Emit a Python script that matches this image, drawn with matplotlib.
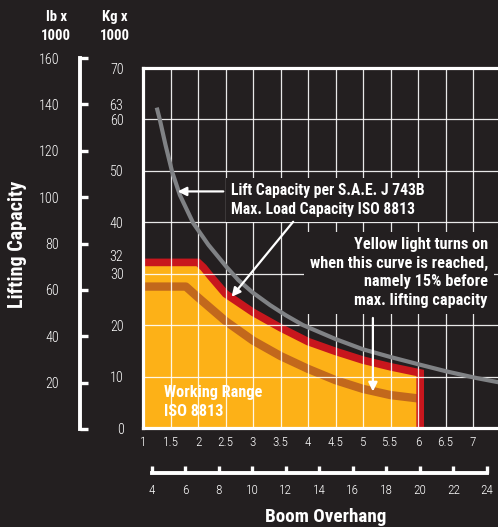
import matplotlib
matplotlib.use('Agg')
import matplotlib.pyplot as plt
from matplotlib import font_manager as fm
from matplotlib.transforms import blended_transform_factory

# ---- pick a condensed sans with a real bold ----
weights = {}
for f in fm.fontManager.ttflist:
    w = f.weight if isinstance(f.weight, int) else (700 if str(f.weight) == 'bold' else 400)
    if f.style == 'normal':
        weights.setdefault(f.name, set()).add(w)
PREF = ['Roboto Condensed', 'Archivo Narrow', 'PT Sans Narrow', 'Fira Sans Condensed',
        'IBM Plex Sans Condensed', 'Encode Sans Condensed', 'Liberation Sans Narrow',
        'Arial Narrow', 'Liberation Sans']
FONT = 'DejaVu Sans'
for name in PREF:
    ws = weights.get(name, set())
    if ws and max(ws) >= 700 and min(ws) <= 400:
        FONT = name
        break
TICK_WEIGHT = 300 if any(w <= 300 for w in weights.get(FONT, {400})) else 'normal'
plt.rcParams['font.family'] = [FONT, 'DejaVu Sans']

BG = '#231f20'
YELLOW = '#fdb117'
RED = '#c8161d'
BROWN = '#c2681c'
GRAY = '#808285'
WHITE = 'white'

# ---------------- data ----------------
boom_m_ticks = [1, 1.5, 2, 2.5, 3, 3.5, 4, 4.5, 5, 5.5, 6, 6.5, 7]
boom_m_labels = ['1', '1.5', '2', '2.5', '3', '3.5', '4', '4.5', '5', '5.5', '6', '6.5', '7']
boom_ft_ticks = [4, 6, 8, 10, 12, 14, 16, 18, 20, 22, 24]
kg_ticks = [0, 10, 20, 30, 40, 50, 60, 70]
kg_extra_ticks = [63, 32]
lb_ticks = [0, 20, 40, 60, 80, 100, 120, 140, 160]

# Lift capacity per S.A.E. J 743B (gray curve), boom overhang m -> kg x 1000
sae_x = [1.25, 1.305, 1.41, 1.53, 1.67, 1.91, 2.19, 2.52, 2.73, 3.0, 3.31, 3.6, 3.91,
         4.5, 5.0, 5.5, 6.04, 6.52, 7.07, 7.46]
sae_y = [62.3, 60.0, 55.0, 49.8, 45.3, 39.9, 35.6, 31.3, 28.8, 26.3, 23.9, 21.9, 20.0,
         17.3, 15.3, 13.8, 12.3, 11.0, 9.7, 8.9]

# Max. load capacity ISO 8813 (red band)
max_x = [1.0, 2.0, 2.1, 2.22, 2.5, 3.0, 3.5, 4.0, 4.5, 5.0, 5.5, 6.04]
max_y = [32.2, 32.2, 31.2, 29.6, 26.1, 22.5, 19.5, 16.8, 14.9, 13.2, 11.9, 10.7]

# Yellow light threshold, 15% before max (brown band)
warn_x = [1.0, 1.78, 2.0, 2.5, 3.0, 3.5, 4.0, 4.5, 5.0, 5.5, 6.04]
warn_y = [27.5, 27.5, 25.4, 20.8, 17.0, 14.0, 11.5, 9.3, 7.6, 6.4, 5.7]

# ---------------- figure ----------------
W, H = 498, 527
fig = plt.figure(figsize=(W / 100, H / 100), dpi=100, facecolor=BG)
renderer = fig.canvas.get_renderer()


def rect(left, top, right, bottom):
    return [left / W, 1 - bottom / H, (right - left) / W, (bottom - top) / H]


def fit(text, target, vertical=False):
    """scale a text's font size so that its drawn extent matches the reference width"""
    bb = text.get_window_extent(renderer)
    size = bb.height if vertical else bb.width
    if size > 0:
        f = target / size
        f = min(max(f, 0.75), 1.3)
        text.set_fontsize(text.get_fontsize() * f)
    return text


ax = fig.add_axes(rect(143, 68, 498, 428))
ax.set_facecolor(BG)
ax.set_xlim(1, 1 + 355 / 55)
ax.set_ylim(0, 70)

for s in ['top', 'left', 'bottom']:
    ax.spines[s].set_color(WHITE)
    ax.spines[s].set_linewidth(2.3)
    ax.spines[s].set_zorder(6)
ax.spines['right'].set_visible(False)

# size tick labels from reference widths ("160" ~20 px, "24" ~15 px)
probe = fig.text(0, 0, '160', fontsize=11, fontweight=TICK_WEIGHT)
fit(probe, 20.5)
tick_big = probe.get_fontsize()
probe.set_fontsize(10)
fit(probe, 19.5)
tick_small = probe.get_fontsize()
probe.remove()

ax.set_xticks(boom_m_ticks)
ax.set_xticklabels(boom_m_labels, fontweight=TICK_WEIGHT)
ax.set_yticks(kg_ticks)
ax.set_yticklabels([str(v) for v in kg_ticks], fontweight=TICK_WEIGHT)
ax.tick_params(axis='x', length=0, pad=6, labelsize=tick_small, labelcolor=WHITE)
ax.tick_params(axis='y', length=0, pad=14, labelsize=tick_big, labelcolor=WHITE)
ax.set_axisbelow(False)
ax.grid(True, color=WHITE, lw=0.9, alpha=0.9)

# extra kg labels
ytrans = blended_transform_factory(ax.transAxes, ax.transData)
for v in kg_extra_ticks:
    dy = 8 if v == 32 else 0
    ax.annotate(str(v), xy=(0, v), xycoords=ytrans, xytext=(-20, dy),
                textcoords='offset pixels', ha='right', va='center_baseline',
                fontsize=tick_big, fontweight=TICK_WEIGHT, color=WHITE,
                annotation_clip=False)

# fills and bands
ax.fill_between(max_x, max_y, 0, color=YELLOW, lw=0, zorder=1)
ax.plot(warn_x, warn_y, color=BROWN, lw=6, solid_capstyle='butt', zorder=2)
ax.plot(max_x + [max_x[-1]], max_y + [0], color=RED, lw=5.5,
        solid_capstyle='butt', solid_joinstyle='miter', zorder=2.2)
ax.plot(sae_x, sae_y, color=GRAY, lw=3, solid_capstyle='butt',
        solid_joinstyle='round', zorder=3)

# annotations
txt_kw = dict(color=WHITE, fontsize=11.5, fontweight='bold', zorder=4)
box = dict(boxstyle='square,pad=0.35', fc=BG, ec='none')
t1 = ax.text(2.6, 44.3, 'Lift Capacity per S.A.E. J 743B\nMax. Load Capacity ISO 8813',
             ha='left', va='center', linespacing=1.3, bbox=box, **txt_kw)
fit(t1, 194)
t2 = ax.text(7.27, 30.2, 'Yellow light turns on\nwhen this curve is reached,\nnamely 15% before\nmax. lifting capacity',
             ha='right', va='center', multialignment='right', linespacing=1.3, bbox=box, **txt_kw)
fit(t2, 178)
t3 = ax.text(1.38, 5.0, 'Working Range\nISO 8813', ha='left', va='center', linespacing=1.3, **txt_kw)
fit(t3, 98)

arrow = dict(arrowstyle='-|>', color=WHITE, lw=1.6, mutation_scale=13, shrinkA=0, shrinkB=0)
ax.annotate('', xy=(1.63, 46.0), xytext=(2.46, 46.0), arrowprops=arrow, zorder=5)
ax.annotate('', xy=(2.61, 25.5), xytext=(3.73, 40.1), arrowprops=arrow, zorder=5)
ax.annotate('', xy=(5.18, 7.1), xytext=(5.18, 21.4), arrowprops=arrow, zorder=5)

# lb axis
axl = fig.add_axes(rect(80, 58, 90, 429))
axl.patch.set_visible(False)
axl.set_ylim(0, 160)
for s in ['top', 'right', 'bottom']:
    axl.spines[s].set_visible(False)
axl.spines['left'].set_color(WHITE)
axl.spines['left'].set_linewidth(2.8)
axl.set_xticks([])
axl.set_yticks(lb_ticks)
axl.set_yticklabels(['' if v == 0 else str(v) for v in lb_ticks], fontweight=TICK_WEIGHT)
axl.tick_params(axis='y', direction='in', length=6, width=2.4, color=WHITE,
                pad=15, labelsize=tick_big, labelcolor=WHITE)

# ft axis
axf = fig.add_axes(rect(143, 468, 498, 473))
axf.patch.set_visible(False)
axf.set_xlim(3.48, 24.67)
for s in ['top', 'right', 'left']:
    axf.spines[s].set_visible(False)
axf.spines['bottom'].set_color(WHITE)
axf.spines['bottom'].set_linewidth(2.8)
axf.spines['bottom'].set_bounds(boom_ft_ticks[0], boom_ft_ticks[-1])
axf.set_yticks([])
axf.set_xticks(boom_ft_ticks)
axf.set_xticklabels([str(v) for v in boom_ft_ticks], fontweight=TICK_WEIGHT)
axf.tick_params(axis='x', direction='in', length=5, width=2.4, color=WHITE,
                pad=8, labelsize=tick_small, labelcolor=WHITE)

# headers and axis titles
hdr = dict(color=WHITE, fontsize=11, fontweight='bold', ha='center', va='center')
h1 = fig.text(56 / W, 1 - 36 / H, '1000', **hdr)
fit(h1, 30)
hdr['fontsize'] = h1.get_fontsize()
fig.text(56 / W, 1 - 17 / H, 'lb x', **hdr)
fig.text(115 / W, 1 - 17 / H, 'Kg x', **hdr)
fig.text(115 / W, 1 - 36 / H, '1000', **hdr)
lc = fig.text(17.5 / W, 1 - 244 / H, 'Lifting Capacity', rotation=90, color=WHITE,
              fontsize=12, fontweight='bold', ha='center', va='center')
fit(lc, 127, vertical=True)
bo = fig.text(326 / W, 1 - 517 / H, 'Boom Overhang', color=WHITE,
              fontsize=12, fontweight='bold', ha='center', va='center')
fit(bo, 122)

fig.savefig('out.png', dpi=100, facecolor=BG)
